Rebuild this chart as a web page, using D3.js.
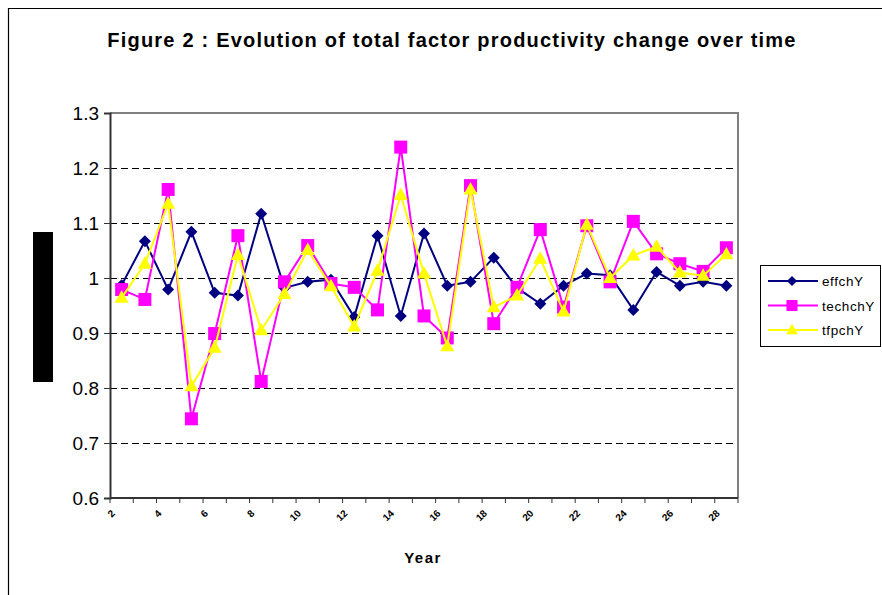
<!DOCTYPE html>
<html>
<head>
<meta charset="utf-8">
<script src="https://cdn.jsdelivr.net/npm/d3@7"></script>
<style>
  body { margin: 0; background: #fff; }
  svg { display: block; font-family: "Liberation Sans", Arial, sans-serif; }
</style>
</head>
<body>
<div id="chart"></div>
<script>
// data
const years = d3.range(2, 29);
const effchY = [0.987, 1.067, 0.979, 1.084, 0.973, 0.968, 1.117, 0.982, 0.993, 0.997, 0.929, 1.077, 0.931, 1.081,
  0.986, 0.993, 1.037, 0.982, 0.953, 0.986, 1.008, 1.005, 0.942, 1.011, 0.986, 0.993, 0.986];
const techchY = [0.979, 0.961, 1.161, 0.744, 0.899, 1.077, 0.812, 0.993, 1.059, 0.990, 0.983, 0.942, 1.238, 0.931,
  0.891, 1.168, 0.917, 0.983, 1.088, 0.947, 1.095, 0.993, 1.103, 1.044, 1.026, 1.012, 1.055];
const tfpchY = [0.964, 1.026, 1.135, 0.803, 0.873, 1.042, 0.905, 0.971, 1.051, 0.985, 0.912, 1.013, 1.151, 1.008,
  0.876, 1.161, 0.947, 0.968, 1.035, 0.939, 1.097, 1.000, 1.041, 1.057, 1.010, 1.004, 1.043];
const yTicks = [0.6, 0.7, 0.8, 0.9, 1.0, 1.1, 1.2, 1.3];

const series = [
  { name: "effchY", values: effchY, color: "#000080", marker: "diamond" },
  { name: "techchY", values: techchY, color: "#ff00ff", marker: "square" },
  { name: "tfpchY", values: tfpchY, color: "#ffff00", marker: "triangle" }
];

const w = 882, h = 595;
const plot = { left: 110, right: 738, top: 113, bottom: 498 };

const svg = d3.select("#chart").append("svg")
  .attr("width", w)
  .attr("height", h);

// outer chart border (only top and left are visible in the frame)
svg.append("path")
  .attr("d", `M8.5,${h} V8.5 H${w}`)
  .attr("fill", "none")
  .attr("stroke", "#000")
  .attr("stroke-width", 1.2);

svg.append("text")
  .attr("x", 452)
  .attr("y", 47)
  .attr("text-anchor", "middle")
  .attr("font-size", 20)
  .attr("font-weight", "bold")
  .attr("letter-spacing", 1.2)
  .text("Figure 2 : Evolution of total factor productivity change over time");

// blacked-out y axis title
svg.append("rect")
  .attr("x", 33).attr("y", 232)
  .attr("width", 20).attr("height", 150)
  .attr("fill", "#000");

const x = d3.scaleBand().domain(years).range([plot.left, plot.right]);
const y = d3.scaleLinear().domain([0.6, 1.3]).range([plot.bottom, plot.top]);

// dashed gridlines
svg.append("g")
  .selectAll("line")
  .data(yTicks.filter(d => d > 0.6 && d < 1.3))
  .join("line")
  .attr("x1", plot.left).attr("x2", plot.right)
  .attr("y1", d => Math.round(y(d)) + 0.5).attr("y2", d => Math.round(y(d)) + 0.5)
  .attr("stroke", "#000")
  .attr("stroke-width", 1)
  .attr("stroke-dasharray", "7,4");

// plot frame top + right
svg.append("path")
  .attr("d", `M${plot.left},${plot.top} H${plot.right} V${plot.bottom}`)
  .attr("fill", "none")
  .attr("stroke", "#808080")
  .attr("stroke-width", 2);

// y axis
const yAxis = svg.append("g")
  .attr("transform", `translate(${plot.left},0)`)
  .call(d3.axisLeft(y).tickValues(yTicks).tickSize(6).tickFormat(d => d === 1 ? "1" : d3.format(".1f")(d)));
yAxis.select(".domain").attr("stroke", "#333").attr("stroke-width", 2);
yAxis.selectAll(".tick line").attr("stroke", "#333");
yAxis.selectAll(".tick text")
  .attr("x", -11)
  .attr("dy", "0.36em")
  .attr("font-size", 19)
  .attr("font-family", "Liberation Sans, Arial, sans-serif")
  .attr("fill", "#000");

// x axis, ticks on band boundaries
const xg = svg.append("g").attr("transform", `translate(0,${plot.bottom})`);
xg.append("line")
  .attr("x1", plot.left).attr("x2", plot.right)
  .attr("stroke", "#333").attr("stroke-width", 2);
xg.selectAll("line.tk")
  .data(years.concat([29]))
  .join("line")
  .attr("class", "tk")
  .attr("x1", (d, i) => plot.left + i * x.step())
  .attr("x2", (d, i) => plot.left + i * x.step())
  .attr("y1", 0).attr("y2", 5)
  .attr("stroke", "#333");
xg.selectAll("text")
  .data(years.filter((d, i) => i % 2 === 0))
  .join("text")
  .attr("transform", d => `translate(${x(d) + x.bandwidth() / 2 - 6},16) rotate(-45)`)
  .attr("text-anchor", "end")
  .attr("font-size", 10)
  .attr("font-weight", "bold")
  .text(d => d);

svg.append("text")
  .attr("x", 423)
  .attr("y", 563)
  .attr("text-anchor", "middle")
  .attr("font-size", 15)
  .attr("font-weight", "bold")
  .attr("letter-spacing", 1.5)
  .text("Year");

function markerPath(type) {
  if (type === "diamond") return "M0,-6L6,0L0,6L-6,0Z";
  if (type === "square") return "M-6.5,-6.5H6.5V6.5H-6.5Z";
  return "M0,-7.5L7,5H-7Z";
}

const line = d3.line()
  .x((d, i) => x(years[i]) + x.bandwidth() / 2)
  .y(d => y(d));

series.forEach(s => {
  const g = svg.append("g");
  g.append("path")
    .datum(s.values)
    .attr("d", line)
    .attr("fill", "none")
    .attr("stroke", s.color)
    .attr("stroke-width", 2);
  g.selectAll("path.m")
    .data(s.values)
    .join("path")
    .attr("class", "m")
    .attr("transform", (d, i) => `translate(${x(years[i]) + x.bandwidth() / 2},${y(d)})`)
    .attr("d", markerPath(s.marker))
    .attr("fill", s.color);
});

// legend
const legend = svg.append("g").attr("id", "legend");
legend.append("rect")
  .attr("x", 760.5).attr("y", 265.5)
  .attr("width", 120).attr("height", 81)
  .attr("fill", "#fff")
  .attr("stroke", "#000");
const item = legend.selectAll("g.item")
  .data(series)
  .join("g")
  .attr("class", "item")
  .attr("transform", (d, i) => `translate(0,${281 + i * 24.5})`);
item.append("line")
  .attr("x1", 768).attr("x2", 818)
  .attr("stroke", d => d.color)
  .attr("stroke-width", 2);
item.append("path")
  .attr("transform", "translate(792,0) scale(0.85)")
  .attr("d", d => markerPath(d.marker))
  .attr("fill", d => d.color);
item.append("text")
  .attr("x", 822)
  .attr("y", 5)
  .attr("font-size", 13.5)
  .attr("letter-spacing", 0.6)
  .text(d => d.name);
</script>
</body>
</html>
